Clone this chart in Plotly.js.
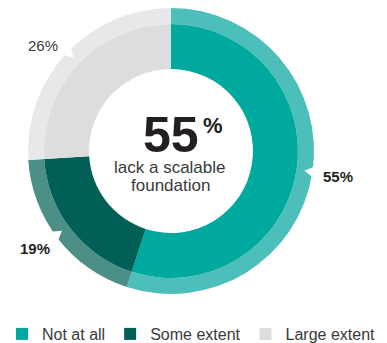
<!DOCTYPE html>
<html>
<head>
<meta charset="utf-8">
<script src="https://cdn.plot.ly/plotly-3.0.1.min.js"></script>
<style>html,body{margin:0;padding:0;background:#fff;}#chart{width:387px;height:343px;}</style>
</head>
<body>
<div id="chart"></div>
<script>
const categories = ["Not at all", "Some extent", "Large extent"];
const values = [55, 19, 26];
const mainColors = ["#00a99e", "#005f56", "#dcdddf"];
const outerColors = ["#4dbfba", "#4b8f87", "#e7e8ea"];
const captionLines = ["lack a scalable", "foundation"];

const W = 387, H = 343;
const cx = 171, cy = 151;          // pie centre in px (from top-left)
const rOuter = 143, rMain = 127, rHole = 82;

function dom(r) {
  return {
    x: [(cx - r) / W, (cx + r) / W],
    y: [(H - cy - r) / H, (H - cy + r) / H]
  };
}

const outer = {
  type: "pie", labels: categories, values: values, sort: false,
  direction: "clockwise", rotation: 0, hole: rMain / rOuter,
  domain: dom(rOuter), marker: {colors: outerColors, line: {width: 0}},
  textinfo: "none", hoverinfo: "none", showlegend: false
};
const inner = {
  type: "pie", labels: categories, values: values, sort: false,
  direction: "clockwise", rotation: 0, hole: rHole / rMain,
  domain: dom(rMain), marker: {colors: mainColors, line: {width: 0}},
  textinfo: "none", hoverinfo: "none", showlegend: true
};

const fam = "Liberation Sans, Arial, Helvetica, sans-serif";
function px(x) { return x / W; }
function py(y) { return 1 - y / H; }

const annotations = [
  {x: px(338), y: py(176), text: "<b>" + values[0] + "%</b>", font: {size: 15, color: "#231f20", family: fam}},
  {x: px(35), y: py(248), text: "<b>" + values[1] + "%</b>", font: {size: 15, color: "#231f20", family: fam}},
  {x: px(43), y: py(46), text: values[2] + "%", font: {size: 15, color: "#3a3a3a", family: fam}},
  {x: px(171), y: py(135), text: "<b>" + values[0] + "</b>", font: {size: 50, color: "#231f20", family: fam}},
  {x: px(213), y: py(126), text: "<b>%</b>", font: {size: 22, color: "#231f20", family: fam}},
  {x: px(170), y: py(167), text: captionLines[0], font: {size: 17, color: "#3a3a3a", family: fam}},
  {x: px(170), y: py(185), text: captionLines[1], font: {size: 17, color: "#3a3a3a", family: fam}}
].map(a => Object.assign({xref: "paper", yref: "paper", showarrow: false, xanchor: "center", yanchor: "middle"}, a));

// small pointer notches cut into the outer ring, facing each label (screen angles, deg)
const notchAngles = [8.4, 143.8, -136.2];
const shapes = notchAngles.map(function (deg) {
  const a = deg * Math.PI / 180;
  const ux = Math.cos(a), uy = Math.sin(a);
  const tx = -uy, ty = ux;
  const tip = [cx + (rOuter - 8) * ux, cy + (rOuter - 8) * uy];
  const b1 = [cx + (rOuter + 2) * ux + 6 * tx, cy + (rOuter + 2) * uy + 6 * ty];
  const b2 = [cx + (rOuter + 2) * ux - 6 * tx, cy + (rOuter + 2) * uy - 6 * ty];
  const p = pt => px(pt[0]) + "," + py(pt[1]);
  return {
    type: "path", xref: "paper", yref: "paper",
    path: "M" + p(b1) + " L" + p(tip) + " L" + p(b2) + " Z",
    fillcolor: "#ffffff", line: {width: 0}, layer: "above"
  };
});

const layout = {
  width: W, height: H,
  margin: {l: 0, r: 0, t: 0, b: 0, autoexpand: false},
  paper_bgcolor: "#fff", plot_bgcolor: "#fff",
  showlegend: true,
  legend: {
    orientation: "h", x: px(2), y: py(351), xanchor: "left", yanchor: "bottom",
    font: {size: 16, color: "#3a3a3a", family: fam},
    traceorder: "normal"
  },
  annotations: annotations,
  shapes: shapes,
  font: {family: fam}
};

Plotly.newPlot("chart", [outer, inner], layout, {displayModeBar: false, staticPlot: true});
</script>
</body>
</html>
